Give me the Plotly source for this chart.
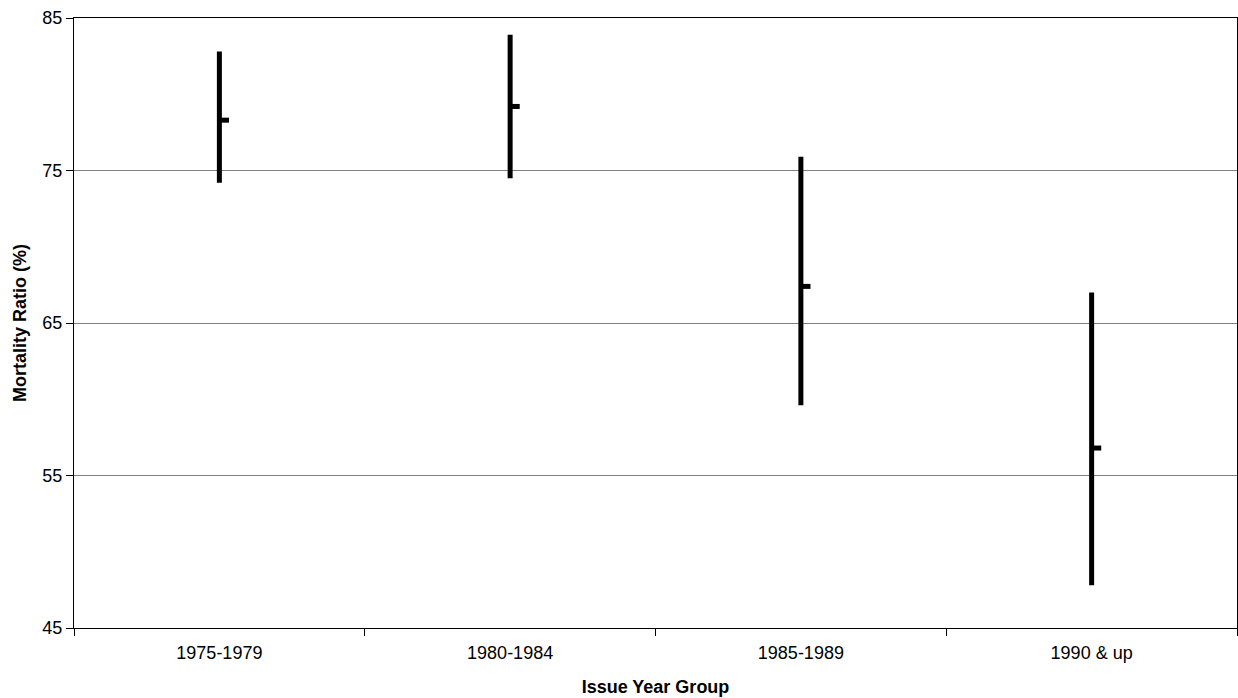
import plotly.graph_objects as go

categories = ["1975-1979", "1980-1984", "1985-1989", "1990 & up"]
high = [82.8, 83.9, 75.9, 67.0]
low = [74.2, 74.5, 59.6, 47.8]
close = [78.3, 79.2, 67.4, 56.8]
y_ticks = [45, 55, 65, 75, 85]

xpos = list(range(len(categories)))

fig = go.Figure()
fig.add_trace(go.Scatter(
    x=xpos, y=close, mode="markers",
    marker=dict(size=1, color="rgba(0,0,0,0)"),
    error_y=dict(type="data", symmetric=False,
                 array=[h - c for h, c in zip(high, close)],
                 arrayminus=[c - l for c, l in zip(close, low)],
                 width=0, thickness=5, color="black"),
    error_x=dict(type="data", symmetric=False,
                 array=[0.033] * len(categories), arrayminus=[0] * len(categories),
                 width=0, thickness=5, color="black"),
    showlegend=False, hoverinfo="skip",
))

fig.update_layout(
    width=1238, height=698,
    margin=dict(l=74, r=1, t=18, b=70),
    paper_bgcolor="white", plot_bgcolor="white",
    font=dict(family="Liberation Sans, Arial, sans-serif", size=18, color="black"),
)
fig.update_xaxes(
    range=[-0.5, len(categories) - 0.5],
    tickvals=xpos, ticktext=categories, ticks="", ticklabelstandoff=8,
    minor=dict(ticks="outside", ticklen=7, tick0=-0.5, dtick=1,
               tickcolor="black", showgrid=False),
    showgrid=False, zeroline=False, showline=True, linecolor="black",
    linewidth=1, mirror=True,
    title=dict(text="<b>Issue Year Group</b>", font=dict(size=18), standoff=18),
)
fig.update_yaxes(
    range=[45, 85], tickvals=y_ticks, ticks="outside", ticklen=7,
    tickcolor="black", showgrid=True, gridcolor="#808080", gridwidth=1,
    showline=True, linecolor="black", linewidth=1, mirror=True, zeroline=False,
    title=dict(text="<b>Mortality Ratio (%)</b>", font=dict(size=18), standoff=11),
)
fig.write_html("out.html")
